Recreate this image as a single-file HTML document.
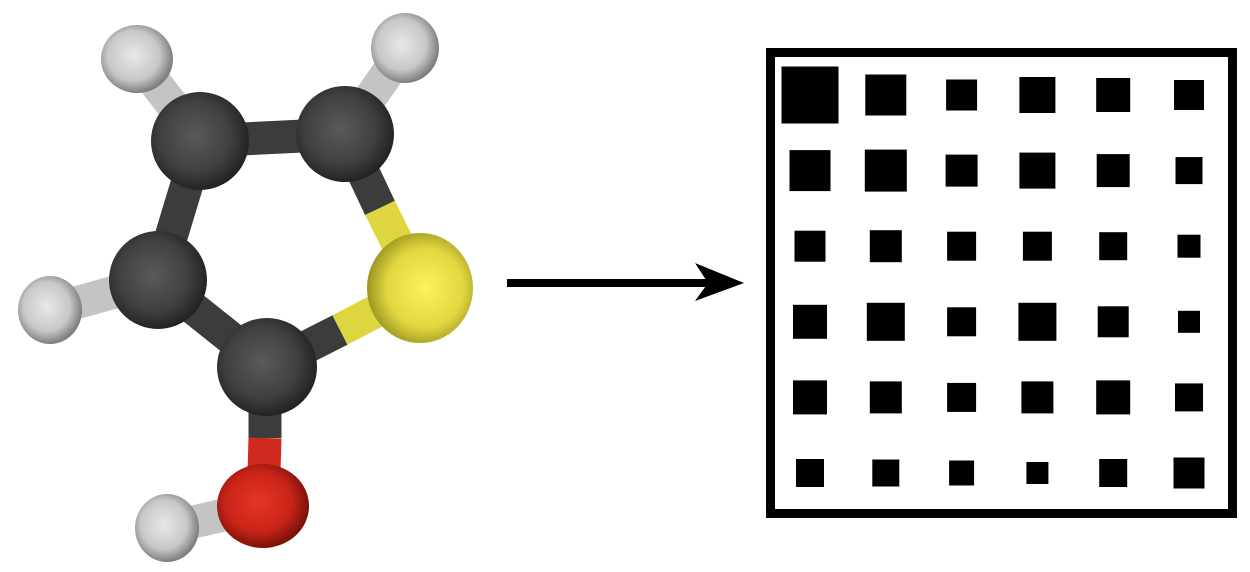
<!DOCTYPE html>
<html><head><meta charset="utf-8"><style>
html,body{margin:0;padding:0;background:#fff;width:1250px;height:572px;overflow:hidden}
svg{display:block}
</style></head><body>
<svg width="1250" height="572" viewBox="0 0 1250 572">
<defs>
<radialGradient id="gC" cx="0.45" cy="0.45" r="0.6"><stop offset="0" stop-color="#5a5a5a"/><stop offset="0.6" stop-color="#404040"/><stop offset="1" stop-color="#1c1c1c"/></radialGradient>
<radialGradient id="gH" cx="0.45" cy="0.45" r="0.6"><stop offset="0" stop-color="#e8e8e8"/><stop offset="0.6" stop-color="#c8c8c8"/><stop offset="1" stop-color="#6a6a6a"/></radialGradient>
<radialGradient id="gS" cx="0.55" cy="0.5" r="0.6"><stop offset="0" stop-color="#fbf35a"/><stop offset="0.6" stop-color="#e0d840"/><stop offset="1" stop-color="#8a8418"/></radialGradient>
<radialGradient id="gO" cx="0.45" cy="0.45" r="0.6"><stop offset="0" stop-color="#e83428"/><stop offset="0.6" stop-color="#c82418"/><stop offset="1" stop-color="#6a0c06"/></radialGradient>
</defs>
<g id="molecule">
 <g stroke-linecap="butt" stroke-width="33">
  <line x1="137" y1="59" x2="200" y2="141" stroke="#c4c4c4"/>
  <line x1="405" y1="48" x2="345" y2="134" stroke="#c4c4c4"/>
  <line x1="50" y1="310" x2="158" y2="280" stroke="#c4c4c4"/>
  <line x1="167" y1="528" x2="263" y2="506" stroke="#c4c4c4"/>
  <line x1="200" y1="141" x2="345" y2="134" stroke="#3c3c3c"/>
  <line x1="200" y1="141" x2="158" y2="280" stroke="#3c3c3c"/>
  <line x1="158" y1="280" x2="267" y2="367" stroke="#3c3c3c"/>
  <line x1="345" y1="134" x2="380" y2="208" stroke="#3c3c3c"/>
  <line x1="380" y1="208" x2="420" y2="288" stroke="#ddd640"/>
  <line x1="267" y1="367" x2="340" y2="330" stroke="#3c3c3c"/>
  <line x1="340" y1="330" x2="420" y2="288" stroke="#ddd640"/>
  <line x1="265" y1="367" x2="265" y2="438" stroke="#3c3c3c"/>
  <line x1="265" y1="438" x2="263" y2="506" stroke="#d02a1e"/>
 </g>
 <ellipse cx="137" cy="59" rx="36" ry="34" fill="url(#gH)"/>
 <ellipse cx="405" cy="48" rx="34" ry="35" fill="url(#gH)"/>
 <ellipse cx="50" cy="310" rx="32" ry="34" fill="url(#gH)"/>
 <ellipse cx="167" cy="528" rx="32" ry="34" fill="url(#gH)"/>
 <ellipse cx="200" cy="141" rx="49" ry="49" fill="url(#gC)"/>
 <ellipse cx="345" cy="134" rx="49" ry="48" fill="url(#gC)"/>
 <ellipse cx="158" cy="280" rx="49" ry="49" fill="url(#gC)"/>
 <ellipse cx="420" cy="288" rx="53" ry="55" fill="url(#gS)"/>
 <ellipse cx="267" cy="367" rx="50" ry="49" fill="url(#gC)"/>
 <ellipse cx="263" cy="506" rx="46" ry="42" fill="url(#gO)"/>
</g>
<g>
 <line x1="507" y1="283" x2="715" y2="283" stroke="#000" stroke-width="8"/>
 <polygon points="744,283 695,263 708,283 695,301" fill="#000"/>
</g>
<rect x="770.5" y="52.5" width="462" height="461" fill="#fff" stroke="#000" stroke-width="9"/>
<g id="cells"></g>
</svg>
<script>
const rowLabels = ["r1","r2","r3","r4","r5","r6"];
const colLabels = ["c1","c2","c3","c4","c5","c6"];
const row1 = [57,41,31,36,34,30];
const row2 = [41,42,32,36,33,27];
const row3 = [31,32,29,29,28,23];
const row4 = [34,38,29,38,31,22];
const row5 = [34,32,29,32,34,28];
const row6 = [28,27,25,22,28,31];
const values = [row1,row2,row3,row4,row5,row6];
const xScale = i => 810 + i*75.8;
const yScale = j => 95 + j*75.6;
const g = document.getElementById('cells');
values.forEach((row,j)=>row.forEach((v,i)=>{
  const r = document.createElementNS('http://www.w3.org/2000/svg','rect');
  r.setAttribute('x', xScale(i)-v/2);
  r.setAttribute('y', yScale(j)-v/2);
  r.setAttribute('width', v);
  r.setAttribute('height', v);
  r.setAttribute('fill', '#000');
  
  
  g.appendChild(r);
}));
</script>
</body></html>
